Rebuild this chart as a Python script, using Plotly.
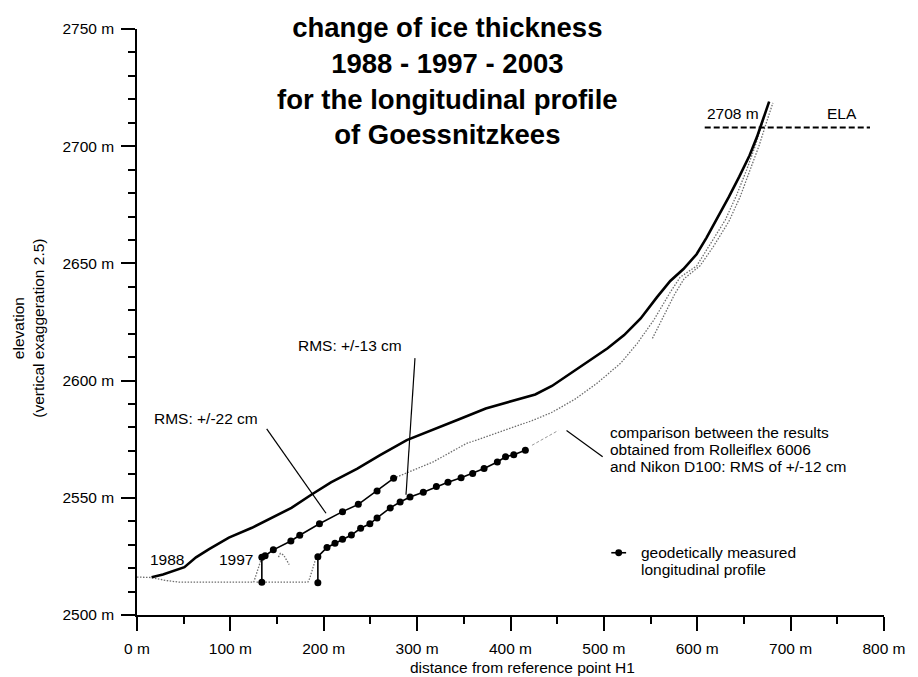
import plotly.graph_objects as go

FONT = "Liberation Sans, Arial, Helvetica, sans-serif"

# ---------------- data (distance in m, elevation in m) ----------------
dist_1988 = [15.6, 27.8, 50.8, 63.2, 77.2, 98.4, 123.1, 144.2, 165.4, 186.6, 207.7,
             236.0, 260.3, 288.9, 317.5, 345.0, 373.5, 402.1, 426.5, 444.4, 465.6,
             486.8, 504.0, 521.7, 539.4, 556.9, 571.1, 585.2, 599.3, 610.0, 622.0,
             634.0, 645.0, 656.0, 664.0, 671.0, 677.0]
elev_1988 = [2516.1, 2517.3, 2520.4, 2524.6, 2528.1, 2533.0, 2537.2, 2541.4, 2545.7,
             2551.3, 2556.6, 2562.4, 2568.2, 2574.6, 2579.3, 2583.5, 2588.1, 2591.5,
             2594.1, 2597.7, 2603.3, 2609.2, 2613.8, 2619.4, 2626.5, 2635.6, 2642.5,
             2647.6, 2653.9, 2661.0, 2669.5, 2678.5, 2687.0, 2696.0, 2704.0, 2712.0,
             2719.0]

# 1997 surface (photogrammetric, dotted) - tongue part and upper part
dist_1997_tongue = [0.0, 15.0, 30.0, 45.0, 125.0, 130.0, 133.7]
elev_1997_tongue = [2516.2, 2516.0, 2514.8, 2514.0, 2514.0, 2520.0, 2524.6]
dist_1997_upper = [274.8, 317.1, 352.4, 387.6, 423.0, 444.1, 468.8, 493.4, 518.2,
                   535.8, 553.4, 571.1, 581.7, 599.3, 613.4, 630.0, 642.0, 653.0,
                   662.0, 670.0, 677.0]
elev_1997_upper = [2558.3, 2565.3, 2573.1, 2578.0, 2582.9, 2586.4, 2592.0, 2599.1,
                   2607.5, 2615.9, 2625.8, 2637.7, 2644.1, 2648.9, 2658.1, 2668.5,
                   2679.0, 2690.0, 2700.0, 2710.0, 2719.0]

# 2003 surface (photogrammetric, dotted)
dist_2003_tongue = [128.0, 183.0, 184.9, 191.9]
elev_2003_tongue = [2514.0, 2514.0, 2515.6, 2524.6]
dist_2003_hump = [151.5, 153.5, 157.0, 163.0]
elev_2003_hump = [2524.7, 2526.3, 2525.6, 2521.5]
dist_2003_comp = [423.0, 451.1]
elev_2003_comp = [2572.4, 2578.7]
dist_2003_upper = [552.0, 565.0, 576.0, 586.0, 603.0, 617.0, 634.0, 646.0, 657.0,
                   666.0, 674.0, 681.0]
elev_2003_upper = [2618.0, 2628.0, 2637.0, 2643.5, 2649.0, 2657.0, 2668.0, 2678.5,
                   2690.0, 2700.0, 2710.0, 2718.5]

# geodetically measured longitudinal profiles
dist_meas_1997 = [133.7, 133.7, 137.2, 146.0, 164.8, 174.3, 195.4, 220.1, 237.0,
                  257.1, 274.8]
elev_meas_1997 = [2514.0, 2524.6, 2525.3, 2527.8, 2531.6, 2534.0, 2538.9, 2544.1,
                  2547.2, 2552.9, 2558.3]
dist_meas_2003 = [193.7, 193.7, 203.5, 212.0, 220.1, 229.6, 239.5, 249.4, 257.1,
                  271.2, 281.8, 292.4, 306.6, 320.6, 333.0, 347.1, 359.5, 371.7,
                  385.9, 394.7, 403.5, 415.9]
elev_meas_2003 = [2513.8, 2524.9, 2528.8, 2530.6, 2532.3, 2534.1, 2537.0, 2538.9,
                  2541.4, 2545.7, 2548.2, 2550.3, 2552.4, 2554.8, 2556.6, 2558.6,
                  2560.4, 2562.5, 2565.3, 2567.5, 2568.4, 2570.3]

# equilibrium line altitude
ela_elev = 2708
ela_dist = [608, 785]

# axis ticks
x_ticks = [0, 100, 200, 300, 400, 500, 600, 700, 800]
x_ticklabels = [f"{v} m" for v in x_ticks]
y_ticks = [2500, 2550, 2600, 2650, 2700, 2750]
y_ticklabels = [f"{v} m" for v in y_ticks]

# leader lines of annotations: (x0, y0, x1, y1)
leader_rms22 = (138.9, 2579.4, 202.4, 2543.4)
leader_rms13 = (297.7, 2609.6, 288.1, 2551.3)
leader_comp = (460.0, 2578.7, 498.7, 2567.5)

# ---------------- figure ----------------
# the page adds an 8 px body margin, so the figure is 8 px smaller on each side
PAGE_OFF = 8
W, H = 918 - PAGE_OFF, 677 - PAGE_OFF
ML, MR, MT, MB = 137 - PAGE_OFF, 25, 22 - PAGE_OFF, 62

fig = go.Figure()
DOT_COLOR = "#6e6e6e"

def dotted(x, y, dash="1.5px,1.5px", width=1.3, color=DOT_COLOR):
    fig.add_trace(go.Scatter(x=x, y=y, mode="lines", showlegend=False, hoverinfo="skip",
                             line=dict(color=color, width=width, dash=dash)))

dotted(dist_1997_tongue, elev_1997_tongue)
dotted(dist_1997_upper, elev_1997_upper)
dotted(dist_2003_tongue, elev_2003_tongue)
dotted(dist_2003_hump, elev_2003_hump)
dotted(dist_2003_upper, elev_2003_upper)
dotted(dist_2003_comp, elev_2003_comp, dash="3px,2px", width=1.0, color="#9a9a9a")

fig.add_trace(go.Scatter(x=dist_1988, y=elev_1988, mode="lines", showlegend=False,
                         line=dict(color="black", width=2.6)))

for dx, dy in ((dist_meas_1997, elev_meas_1997), (dist_meas_2003, elev_meas_2003)):
    fig.add_trace(go.Scatter(x=dx, y=dy, mode="lines+markers", showlegend=False,
                             line=dict(color="black", width=1.6),
                             marker=dict(color="black", size=7)))

fig.add_trace(go.Scatter(x=ela_dist, y=[ela_elev] * len(ela_dist), mode="lines",
                         showlegend=False,
                         line=dict(color="black", width=2, dash="6px,3px")))

for (x0, y0, x1, y1) in (leader_rms22, leader_rms13, leader_comp):
    fig.add_shape(type="line", xref="x", yref="y", x0=x0, y0=y0, x1=x1, y1=y1,
                  line=dict(color="black", width=1.2))

# plot-area pixel helpers (plot area spans x 137..893, y 22..615 on the page)
def px(xp):
    return (xp - 137) / 756.0
def py(yp):
    return (615 - yp) / 593.0

# legend key (line with dot) drawn as shapes in paper coordinates
fig.add_shape(type="line", xref="paper", yref="paper", x0=px(617), x1=px(632),
              y0=py(552), y1=py(552), line=dict(color="black", width=1.6))
fig.add_shape(type="circle", xref="paper", yref="paper", x0=px(621), x1=px(628),
              y0=py(555.5), y1=py(548.5), fillcolor="black", line=dict(color="black", width=0))

ann = []
def text(x, y, t, xanchor="left", yanchor="middle", size=15.5, xref="x", yref="y",
         align="left", **kw):
    ann.append(dict(x=x, y=y, text=t, xref=xref, yref=yref, xanchor=xanchor,
                    yanchor=yanchor, showarrow=False, align=align,
                    font=dict(family=FONT, size=size, color="black"), **kw))

text(132, 2583.9, "RMS: +/-22 cm", xanchor="right")
text(170.7, 2614.9, "RMS: +/-13 cm")
comp_lines = ["comparison between the results", "obtained from Rolleiflex 6006",
              "and Nikon D100: RMS of +/-12 cm"]
for i, line in enumerate(comp_lines):
    text(px(614), py(430 + 17.5 * i), line, xref="paper", yref="paper")
legend_lines = ["geodetically measured", "longitudinal profile"]
for i, line in enumerate(legend_lines):
    text(px(645), py(552 + 16.8 * i), line, xref="paper", yref="paper")
text(32.4, 2523.6, "1988", xanchor="center")
text(126.7, 2523.8, "1997", xanchor="right")
text(608, 2709.5, "2708 m", yanchor="bottom")
text(755, 2709.5, "ELA", xanchor="center", yanchor="bottom")

# title
text(px(451), py(3), "<b>change of ice thickness<br>1988 - 1997 - 2003<br>"
     "for the longitudinal profile<br>of Goessnitzkees</b>",
     xanchor="center", yanchor="top", size=27.5, xref="paper", yref="paper",
     align="center")
# axis titles
text(px(527), py(668), "distance from reference point H1", xanchor="center",
     xref="paper", yref="paper", align="center")
text(px(27), py(325), "elevation<br>(vertical exaggeration 2.5)", xanchor="center",
     xref="paper", yref="paper", align="center", textangle=-90)

axis_common = dict(ticks="outside", ticklen=14, tickwidth=1.5, tickcolor="black",
                   showline=True, linecolor="black", linewidth=1.5, showgrid=False,
                   zeroline=False, tickmode="array",
                   tickfont=dict(family=FONT, size=15.5, color="black"))

fig.update_layout(
    width=W, height=H,
    margin=dict(l=ML, r=MR, t=MT, b=MB, pad=0),
    paper_bgcolor="white", plot_bgcolor="white",
    font=dict(family=FONT, size=15.5, color="black"),
    showlegend=False,
    annotations=ann,
    xaxis=dict(range=[0, 800], tickvals=x_ticks, ticktext=x_ticklabels,
               ticklabelstandoff=5,
               minor=dict(tick0=0, dtick=50, ticks="outside", ticklen=7, tickwidth=1.5,
                          tickcolor="black", showgrid=False),
               **axis_common),
    yaxis=dict(range=[2500, 2750], tickvals=y_ticks, ticktext=y_ticklabels,
               ticklabelstandoff=4,
               minor=dict(tick0=2500, dtick=10, ticks="outside", ticklen=7, tickwidth=1.5,
                          tickcolor="black", showgrid=False),
               **axis_common),
)

fig.write_html("out.html")
